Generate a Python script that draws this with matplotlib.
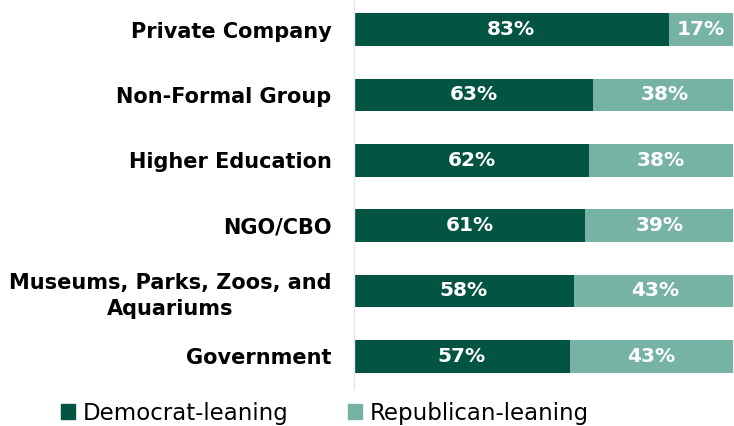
import matplotlib
matplotlib.use("Agg")
import matplotlib.pyplot as plt
from matplotlib.patches import Patch

categories = [
    "Private Company",
    "Non-Formal Group",
    "Higher Education",
    "NGO/CBO",
    "Museums, Parks, Zoos, and\nAquariums",
    "Government",
]
democrat = [83, 63, 62, 61, 58, 57]
republican = [17, 38, 38, 39, 43, 43]

DARK = "#035443"
LIGHT = "#76B3A5"

plt.rcParams["font.family"] = ["DejaVu Sans"]

fig = plt.figure(figsize=(7.34, 4.26), dpi=100)
ax = fig.add_axes([0.482, 0.087, 0.517, 0.92])

y = list(range(len(categories)))
ax.barh(y, democrat, height=0.5, color=DARK)
ax.barh(y, republican, left=democrat, height=0.5, color=LIGHT)

for i, (d, r) in enumerate(zip(democrat, republican)):
    ax.text(d / 2, i, f"{d}%", ha="center", va="center",
            color="white", fontsize=14.5, fontweight="bold")
    ax.text(d + r / 2, i, f"{r}%", ha="center", va="center",
            color="white", fontsize=14.5, fontweight="bold")

ax.set_xlim(0, 100)
ax.set_ylim(len(categories) - 0.5, -0.5)
ax.set_yticks(y)
ax.set_yticklabels(categories, fontsize=15, fontweight="bold",
                   multialignment="center", linespacing=1.4)
ax.tick_params(axis="y", length=0, pad=16)
ax.set_xticks([])
for side in ["top", "right", "bottom"]:
    ax.spines[side].set_visible(False)
ax.spines["left"].set_color("#e6e6e6")
ax.spines["left"].set_linewidth(1)

handles = [Patch(color=DARK, label="Democrat-leaning"),
           Patch(color=LIGHT, label="Republican-leaning")]
fig.legend(handles=handles, loc="center", bbox_to_anchor=(0.443, 0.03),
           ncol=2, frameon=False, fontsize=16.5, handlelength=0.6,
           handleheight=0.6, handletextpad=0.35, columnspacing=2.6)

fig.savefig("out.png", dpi=100)
